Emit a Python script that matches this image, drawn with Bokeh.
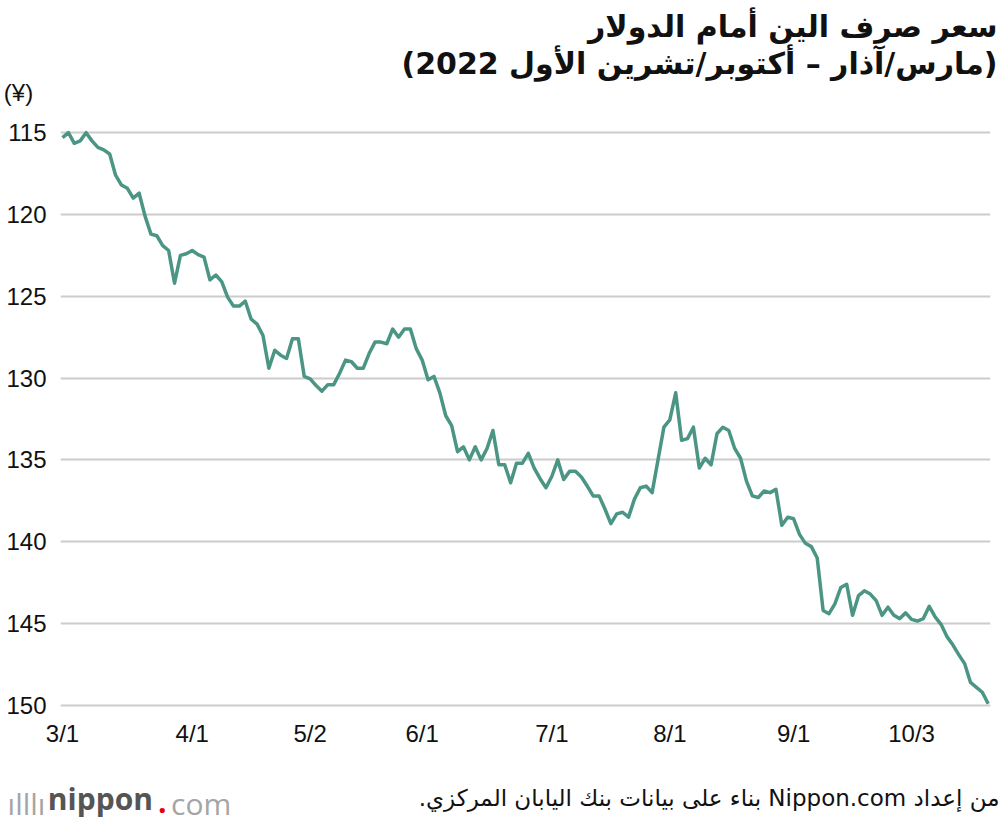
from bokeh.plotting import figure
from bokeh.models import Range1d, FixedTicker, Title, LinearAxis
from bokeh.embed import file_html
from bokeh.resources import INLINE

# ---- data (yen per US dollar, Bank of Japan business days, 1 Mar – ~20 Oct 2022)
rates = [
    115.3, 115.0, 115.65, 115.5, 115.0, 115.5, 115.9, 116.05, 116.3, 117.6,
    118.2, 118.4, 119.0, 118.7, 120.1, 121.2, 121.3, 121.9, 122.2, 124.2,
    122.5, 122.4, 122.2, 122.45, 122.6, 124.0, 123.7,
    124.1, 125.05, 125.6, 125.6, 125.3, 126.4, 126.7, 127.4, 129.4, 128.3,
    128.6, 128.8, 127.6, 127.6, 129.9, 130.05, 130.45, 130.8, 130.4, 130.4,
    129.7, 128.9, 129.0, 129.4, 129.4,
    128.5, 127.8, 127.8, 127.9, 127.0, 127.5, 127.0, 127.0, 128.2, 128.9,
    130.1, 129.9, 130.9, 132.3, 132.9, 134.5, 134.2, 135.0, 134.2, 135.0,
    134.3, 133.2, 135.3, 135.3, 136.4,
    135.2, 135.2, 134.6, 135.5, 136.15, 136.7, 136.0, 135.0, 136.2, 135.7,
    135.7, 136.05, 136.6, 137.2, 137.2, 138.0, 138.9, 138.3, 138.2, 138.5,
    137.4, 136.7, 136.6, 137.0, 135.0, 133.0,
    132.55, 130.9, 133.8, 133.7, 133.0, 135.5, 134.9, 135.3, 133.4, 133.0,
    133.2, 134.3, 134.9, 136.3, 137.2, 137.3, 136.9, 137.0, 136.8, 139.0,
    138.5, 138.6, 139.55, 140.1, 140.3,
    141.0, 144.2, 144.4, 143.8, 142.8, 142.6, 144.5, 143.3, 143.0, 143.2,
    143.6, 144.5, 144.0, 144.5, 144.7, 144.35, 144.75, 144.85, 144.7, 143.95,
    144.6, 145.05, 145.8, 146.3, 146.9, 147.45, 148.6, 148.9, 149.2, 149.9,
]
day_index = list(range(len(rates)))

tick_days = [0, 22, 42, 61, 83, 103, 124, 144]
tick_labels = ["3/1", "4/1", "5/2", "6/1", "7/1", "8/1", "9/1", "10/3"]
y_ticks = [115, 120, 125, 130, 135, 140, 145, 150]
unit_tick = 112.55          # where the "(¥)" unit label sits on the y axis
unit_label = "(¥)"

title1 = "سعر صرف الين أمام الدولار"
title2 = "(مارس/آذار – أكتوبر/تشرين الأول 2022)"
source = "من إعداد Nippon.com بناء على بيانات بنك اليابان المركزي."

RLE, PDF = "\u202B", "\u202C"
NBSP = "\u00a0"

p = figure(width=1000, height=826, output_backend="svg", toolbar_location=None,
           x_range=Range1d(-0.34, 157.39), y_range=Range1d(150.5, 112.3),
           min_border_left=58, min_border_right=10, min_border_top=88,
           min_border_bottom=113)
p.extra_x_ranges = {"foot": Range1d(58, 990)}   # footer row, in page pixels
p.outline_line_color = None
p.background_fill_color = "white"
p.border_fill_color = "white"
p.xgrid.grid_line_color = None
p.ygrid.ticker = FixedTicker(ticks=y_ticks)
p.ygrid.grid_line_color = "#cccccc"
p.ygrid.grid_line_width = 2
p.yaxis.ticker = FixedTicker(ticks=[unit_tick] + y_ticks)
p.yaxis.major_label_overrides = {unit_tick: unit_label + NBSP * 2}
p.xaxis.ticker = FixedTicker(ticks=tick_days)
p.xaxis.major_label_overrides = {d: l for d, l in zip(tick_days, tick_labels)}

for ax in (p.xaxis[0], p.yaxis[0]):
    ax.axis_line_color = None
    ax.major_tick_line_color = None
    ax.minor_tick_line_color = None
    ax.major_tick_out = 0
    ax.major_tick_in = 0
    ax.minor_tick_out = 0
    ax.minor_tick_in = 0
    ax.major_label_text_font = "Liberation Sans"
    ax.major_label_text_font_size = "24px"
    ax.major_label_text_color = "#111111"
p.yaxis.major_label_standoff = 14
p.xaxis.major_label_standoff = 6

p.line(day_index, rates, line_color="#4b9584", line_width=3.5, line_join="round")

# header: titles stack upward from the frame
p.add_layout(Title(text=RLE + title2 + PDF, align="right", offset=-7, standoff=15,
                   text_font="DejaVu Sans", text_font_size="30px",
                   text_font_style="bold", text_color="#111111"), "above")
p.add_layout(Title(text=RLE + title1 + PDF, align="right", offset=-7, standoff=-15,
                   text_font="DejaVu Sans", text_font_size="30px",
                   text_font_style="bold", text_color="#111111"), "above")

# footer row: label-only axes on the "foot" range (source note + logo parts)
def foot_axis(ticks, labels, font, size, style, color, standoff):
    ax = LinearAxis(x_range_name="foot", ticker=FixedTicker(ticks=ticks),
                    major_label_overrides=dict(zip(ticks, labels)),
                    axis_line_color=None, major_tick_line_color=None,
                    minor_tick_line_color=None, major_tick_out=0, major_tick_in=0,
                    minor_tick_out=0, minor_tick_in=0,
                    major_label_standoff=standoff, major_label_text_font=font,
                    major_label_text_font_size=size,
                    major_label_text_font_style=style,
                    major_label_text_color=color)
    p.add_layout(ax, "below")

foot_axis([708], [RLE + source + PDF], "DejaVu Sans", "23px", "normal", "#111111", 35)
foot_axis([98], ["nippon"], "Open Sans", "30px", "bold", "#555555", -36)
foot_axis([63, 199], ["ılllı" + NBSP * 10, "com"], "Open Sans", "30px", "normal",
          "#a5a5a5", -39)
foot_axis([160], ["."], "Open Sans", "30px", "bold", "#e60012", -36)

open("out.html", "w").write(file_html(p, INLINE))
